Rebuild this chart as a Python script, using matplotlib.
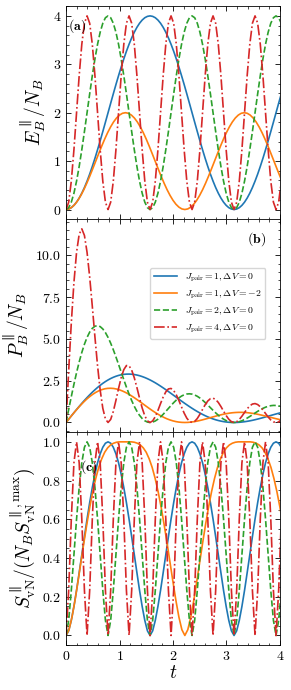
import matplotlib
matplotlib.use("Agg")
import matplotlib.pyplot as plt
from matplotlib.ticker import AutoMinorLocator, MultipleLocator

plt.rcParams["font.family"] = "serif"
plt.rcParams["font.serif"] = ["cmr10"]
plt.rcParams["mathtext.fontset"] = "cm"
plt.rcParams["axes.formatter.use_mathtext"] = True
plt.rcParams["axes.unicode_minus"] = False

# time grid used for J_pair = 1, 2, 4 (Delta V = 0) -----
t = [0.0, 0.0491, 0.0982, 0.1473, 0.1963, 0.2454, 0.2945, 0.3436, 0.3927, 0.4418,
     0.4909, 0.5400, 0.5890, 0.6381, 0.6872, 0.7363, 0.7854, 0.8345, 0.8836, 0.9327,
     0.9817, 1.0308, 1.0799, 1.1290, 1.1781, 1.2272, 1.2763, 1.3254, 1.3744, 1.4235,
     1.4726, 1.5217, 1.5708, 1.6199, 1.6690, 1.7181, 1.7671, 1.8162, 1.8653, 1.9144,
     1.9635, 2.0126, 2.0617, 2.1108, 2.1598, 2.2089, 2.2580, 2.3071, 2.3562, 2.4053,
     2.4544, 2.5035, 2.5525, 2.6016, 2.6507, 2.6998, 2.7489, 2.7980, 2.8471, 2.8962,
     2.9452, 2.9943, 3.0434, 3.0925, 3.1416, 3.1907, 3.2398, 3.2889, 3.3379, 3.3870,
     3.4361, 3.4852, 3.5343, 3.5834, 3.6325, 3.6816, 3.7306, 3.7797, 3.8288, 3.8779,
     3.9270, 3.9761, 4.0252]

# time grid for J_pair = 1, Delta V = -2
t_dv = [0.0000, 0.0555, 0.1111, 0.1666, 0.2221, 0.2777, 0.3332, 0.3888, 0.4443, 0.4998,
        0.5554, 0.6109, 0.6664, 0.7220, 0.7775, 0.8330, 0.8886, 0.9441, 0.9996, 1.0552,
        1.1107, 1.1663, 1.2218, 1.2773, 1.3329, 1.3884, 1.4439, 1.4995, 1.5550, 1.6105,
        1.6661, 1.7216, 1.7772, 1.8327, 1.8882, 1.9438, 1.9993, 2.0548, 2.1104, 2.1659,
        2.2214, 2.2770, 2.3325, 2.3880, 2.4436, 2.4991, 2.5547, 2.6102, 2.6657, 2.7213,
        2.7768, 2.8323, 2.8879, 2.9434, 2.9989, 3.0545, 3.1100, 3.1656, 3.2211, 3.2766,
        3.3322, 3.3877, 3.4432, 3.4988, 3.5543, 3.6098, 3.6654, 3.7209, 3.7764, 3.8320,
        3.8875, 3.9431, 3.9986, 4.0541]

# (a) energy ----------
E_j1 = [0, 0.010, 0.038, 0.086, 0.152, 0.236, 0.337, 0.454, 0.586, 0.731,
        0.889, 1.057, 1.235, 1.419, 1.610, 1.804, 2.000, 2.196, 2.390, 2.581,
        2.765, 2.943, 3.111, 3.269, 3.414, 3.546, 3.663, 3.764, 3.848, 3.914,
        3.962, 3.990, 4.000, 3.990, 3.962, 3.914, 3.848, 3.764, 3.663, 3.546,
        3.414, 3.269, 3.111, 2.943, 2.765, 2.581, 2.390, 2.196, 2.000, 1.804,
        1.610, 1.419, 1.235, 1.057, 0.889, 0.731, 0.586, 0.454, 0.337, 0.236,
        0.152, 0.086, 0.038, 0.010, 0, 0.010, 0.038, 0.086, 0.152, 0.236,
        0.337, 0.454, 0.586, 0.731, 0.889, 1.057, 1.235, 1.419, 1.610, 1.804,
        2.000, 2.196, 2.390]
E_dv = [0, 0.012, 0.049, 0.109, 0.191, 0.293, 0.412, 0.546, 0.691, 0.844,
        1.000, 1.156, 1.309, 1.454, 1.588, 1.707, 1.809, 1.891, 1.951, 1.988,
        2.000, 1.988, 1.951, 1.891, 1.809, 1.707, 1.588, 1.454, 1.309, 1.156,
        1.000, 0.844, 0.691, 0.546, 0.412, 0.293, 0.191, 0.109, 0.049, 0.012,
        0, 0.012, 0.049, 0.109, 0.191, 0.293, 0.412, 0.546, 0.691, 0.844,
        1.000, 1.156, 1.309, 1.454, 1.588, 1.707, 1.809, 1.891, 1.951, 1.988,
        2.000, 1.988, 1.951, 1.891, 1.809, 1.707, 1.588, 1.454, 1.309, 1.156,
        1.000, 0.844, 0.691, 0.546]
E_j2 = [0, 0.038, 0.152, 0.337, 0.586, 0.889, 1.235, 1.610, 2.000, 2.390,
        2.765, 3.111, 3.414, 3.663, 3.848, 3.962, 4.000, 3.962, 3.848, 3.663,
        3.414, 3.111, 2.765, 2.390, 2.000, 1.610, 1.235, 0.889, 0.586, 0.337,
        0.152, 0.038, 0, 0.038, 0.152, 0.337, 0.586, 0.889, 1.235, 1.610,
        2.000, 2.390, 2.765, 3.111, 3.414, 3.663, 3.848, 3.962, 4.000, 3.962,
        3.848, 3.663, 3.414, 3.111, 2.765, 2.390, 2.000, 1.610, 1.235, 0.889,
        0.586, 0.337, 0.152, 0.038, 0, 0.038, 0.152, 0.337, 0.586, 0.889,
        1.235, 1.610, 2.000, 2.390, 2.765, 3.111, 3.414, 3.663, 3.848, 3.962,
        4.000, 3.962, 3.848]
E_j4 = [0, 0.152, 0.586, 1.235, 2.000, 2.765, 3.414, 3.848, 4.000, 3.848,
        3.414, 2.765, 2.000, 1.235, 0.586, 0.152, 0, 0.152, 0.586, 1.235,
        2.000, 2.765, 3.414, 3.848, 4.000, 3.848, 3.414, 2.765, 2.000, 1.235,
        0.586, 0.152, 0, 0.152, 0.586, 1.235, 2.000, 2.765, 3.414, 3.848,
        4.000, 3.848, 3.414, 2.765, 2.000, 1.235, 0.586, 0.152, 0, 0.152,
        0.586, 1.235, 2.000, 2.765, 3.414, 3.848, 4.000, 3.848, 3.414, 2.765,
        2.000, 1.235, 0.586, 0.152, 0, 0.152, 0.586, 1.235, 2.000, 2.765,
        3.414, 3.848, 4.000, 3.848, 3.414, 2.765, 2.000, 1.235, 0.586, 0.152,
        0, 0.152, 0.586]

# (b) P ----------
P_j1 = [0, 0.196, 0.391, 0.585, 0.775, 0.962, 1.144, 1.321, 1.492, 1.655,
        1.811, 1.958, 2.096, 2.224, 2.343, 2.450, 2.546, 2.632, 2.705, 2.767,
        2.817, 2.855, 2.881, 2.895, 2.898, 2.890, 2.870, 2.840, 2.800, 2.749,
        2.690, 2.622, 2.546, 2.463, 2.374, 2.278, 2.177, 2.072, 1.964, 1.852,
        1.739, 1.624, 1.509, 1.394, 1.280, 1.168, 1.059, 0.952, 0.849, 0.750,
        0.656, 0.567, 0.484, 0.406, 0.335, 0.271, 0.213, 0.162, 0.118, 0.082,
        0.052, 0.029, 0.013, 0.003, 0, 0.003, 0.012, 0.026, 0.046, 0.070,
        0.098, 0.130, 0.166, 0.204, 0.245, 0.287, 0.331, 0.376, 0.420, 0.465,
        0.509, 0.552, 0.594]
P_dv = [0, 0.222, 0.441, 0.654, 0.860, 1.055, 1.237, 1.405, 1.555, 1.688,
        1.801, 1.893, 1.964, 2.014, 2.042, 2.049, 2.036, 2.003, 1.952, 1.884,
        1.801, 1.704, 1.597, 1.480, 1.357, 1.230, 1.100, 0.970, 0.842, 0.718,
        0.600, 0.490, 0.389, 0.298, 0.218, 0.151, 0.096, 0.053, 0.023, 0.006,
        0, 0.005, 0.021, 0.046, 0.078, 0.117, 0.161, 0.209, 0.259, 0.310,
        0.360, 0.408, 0.453, 0.494, 0.529, 0.559, 0.582, 0.597, 0.606, 0.607,
        0.600, 0.587, 0.567, 0.541, 0.509, 0.473, 0.433, 0.391, 0.347, 0.302,
        0.257, 0.214, 0.173, 0.135]
P_j2 = [0, 0.783, 1.551, 2.289, 2.983, 3.622, 4.192, 4.685, 5.093, 5.410,
        5.634, 5.762, 5.796, 5.740, 5.599, 5.380, 5.093, 4.747, 4.355, 3.927,
        3.478, 3.018, 2.561, 2.117, 1.698, 1.312, 0.967, 0.671, 0.426, 0.237,
        0.103, 0.025, 0, 0.024, 0.091, 0.196, 0.332, 0.489, 0.662, 0.841,
        1.019, 1.188, 1.341, 1.474, 1.581, 1.658, 1.704, 1.717, 1.698, 1.647,
        1.568, 1.463, 1.338, 1.196, 1.043, 0.885, 0.728, 0.575, 0.434, 0.307,
        0.199, 0.113, 0.050, 0.012, 0, 0.012, 0.047, 0.103, 0.176, 0.262,
        0.359, 0.462, 0.566, 0.667, 0.761, 0.845, 0.915, 0.969, 1.005, 1.022,
        1.019, 0.996, 0.956]
P_j4 = [0, 3.101, 5.967, 8.384, 10.186, 11.267, 11.592, 11.198, 10.186, 8.710,
        6.955, 5.121, 3.395, 1.935, 0.852, 0.207, 0, 0.182, 0.663, 1.324,
        2.037, 2.683, 3.162, 3.408, 3.395, 3.135, 2.675, 2.087, 1.455, 0.867,
        0.398, 0.100, 0, 0.094, 0.351, 0.719, 1.132, 1.523, 1.830, 2.010,
        2.037, 1.912, 1.656, 1.310, 0.926, 0.559, 0.259, 0.066, 0, 0.063,
        0.239, 0.493, 0.784, 1.063, 1.288, 1.425, 1.455, 1.375, 1.199, 0.955,
        0.679, 0.412, 0.193, 0.049, 0, 0.048, 0.181, 0.375, 0.599, 0.817,
        0.994, 1.104, 1.132, 1.074, 0.940, 0.751, 0.536, 0.327, 0.153, 0.039,
        0, 0.038, 0.146]

# (c) entanglement entropy ----------
S_j1 = [0, 0.024, 0.078, 0.150, 0.233, 0.324, 0.417, 0.510, 0.601, 0.686,
        0.764, 0.833, 0.892, 0.938, 0.972, 0.993, 1.000, 0.993, 0.972, 0.938,
        0.892, 0.833, 0.764, 0.686, 0.601, 0.510, 0.417, 0.324, 0.233, 0.150,
        0.078, 0.024, 0, 0.024, 0.078, 0.150, 0.233, 0.324, 0.417, 0.510,
        0.601, 0.686, 0.764, 0.833, 0.892, 0.938, 0.972, 0.993, 1.000, 0.993,
        0.972, 0.938, 0.892, 0.833, 0.764, 0.686, 0.601, 0.510, 0.417, 0.324,
        0.233, 0.150, 0.078, 0.024, 0, 0.024, 0.078, 0.150, 0.233, 0.324,
        0.417, 0.510, 0.601, 0.686, 0.764, 0.833, 0.892, 0.938, 0.972, 0.993,
        1.000, 0.993, 0.972]
S_dv = [0, 0.030, 0.095, 0.180, 0.277, 0.378, 0.479, 0.575, 0.664, 0.743,
        0.811, 0.868, 0.912, 0.946, 0.969, 0.984, 0.993, 0.998, 1.000, 1.000,
        1.000, 1.000, 1.000, 0.998, 0.993, 0.984, 0.969, 0.946, 0.912, 0.868,
        0.811, 0.743, 0.664, 0.575, 0.479, 0.378, 0.277, 0.180, 0.095, 0.030,
        0, 0.030, 0.095, 0.180, 0.277, 0.378, 0.479, 0.575, 0.664, 0.743,
        0.811, 0.868, 0.912, 0.946, 0.969, 0.984, 0.993, 0.998, 1.000, 1.000,
        1.000, 1.000, 1.000, 0.998, 0.993, 0.984, 0.969, 0.946, 0.912, 0.868,
        0.811, 0.743, 0.664, 0.575]
S_j2 = [0, 0.078, 0.233, 0.417, 0.601, 0.764, 0.892, 0.972, 1.000, 0.972,
        0.892, 0.764, 0.601, 0.417, 0.233, 0.078, 0, 0.078, 0.233, 0.417,
        0.601, 0.764, 0.892, 0.972, 1.000, 0.972, 0.892, 0.764, 0.601, 0.417,
        0.233, 0.078, 0, 0.078, 0.233, 0.417, 0.601, 0.764, 0.892, 0.972,
        1.000, 0.972, 0.892, 0.764, 0.601, 0.417, 0.233, 0.078, 0, 0.078,
        0.233, 0.417, 0.601, 0.764, 0.892, 0.972, 1.000, 0.972, 0.892, 0.764,
        0.601, 0.417, 0.233, 0.078, 0, 0.078, 0.233, 0.417, 0.601, 0.764,
        0.892, 0.972, 1.000, 0.972, 0.892, 0.764, 0.601, 0.417, 0.233, 0.078,
        0, 0.078, 0.233]
S_j4 = [0, 0.233, 0.601, 0.892, 1.000, 0.892, 0.601, 0.233, 0, 0.233,
        0.601, 0.892, 1.000, 0.892, 0.601, 0.233, 0, 0.233, 0.601, 0.892,
        1.000, 0.892, 0.601, 0.233, 0, 0.233, 0.601, 0.892, 1.000, 0.892,
        0.601, 0.233, 0, 0.233, 0.601, 0.892, 1.000, 0.892, 0.601, 0.233,
        0, 0.233, 0.601, 0.892, 1.000, 0.892, 0.601, 0.233, 0, 0.233,
        0.601, 0.892, 1.000, 0.892, 0.601, 0.233, 0, 0.233, 0.601, 0.892,
        1.000, 0.892, 0.601, 0.233, 0, 0.233, 0.601, 0.892, 1.000, 0.892,
        0.601, 0.233, 0, 0.233, 0.601, 0.892, 1.000, 0.892, 0.601, 0.233,
        0, 0.233, 0.601]

labels = [r"$J_{\rm pair}=1, \Delta V=0$", r"$J_{\rm pair}=1, \Delta V=-2$",
          r"$J_{\rm pair}=2, \Delta V=0$", r"$J_{\rm pair}=4, \Delta V=0$"]
colors = ["#1f77b4", "#ff7f0e", "#2ca02c", "#d62728"]
styles = ["-", "-", "--", "-."]

panels = [(E_j1, E_dv, E_j2, E_j4), (P_j1, P_dv, P_j2, P_j4), (S_j1, S_dv, S_j2, S_j4)]

fig, axes = plt.subplots(3, 1, sharex=True, figsize=(2.91, 6.90), dpi=100)
fig.subplots_adjust(left=0.227, right=0.962, top=0.991, bottom=0.065, hspace=0)

for ax, ys in zip(axes, panels):
    xs = [t, t_dv, t, t]
    for x, y, c, ls, lab in zip(xs, ys, colors, styles, labels):
        ax.plot(x, y, color=c, ls=ls, lw=1.2, label=lab)
    ax.tick_params(which="both", direction="in", top=True, right=True, labelsize=10)
    ax.tick_params(which="major", length=3.5, width=0.6)
    ax.tick_params(which="minor", length=1.8, width=0.5)
    ax.xaxis.set_minor_locator(AutoMinorLocator(5))
    for s in ax.spines.values():
        s.set_linewidth(0.6)

ax1, ax2, ax3 = axes
ax1.set_xlim(0, 4)
ax1.set_ylim(-0.2, 4.2)
ax1.yaxis.set_major_locator(MultipleLocator(1))
ax1.yaxis.set_minor_locator(AutoMinorLocator(5))
ax2.set_ylim(-0.58, 12.17)
ax2.yaxis.set_major_locator(MultipleLocator(2.5))
ax2.yaxis.set_minor_locator(AutoMinorLocator(5))
ax3.set_ylim(-0.05, 1.05)
ax3.yaxis.set_major_locator(MultipleLocator(0.2))
ax3.yaxis.set_minor_locator(AutoMinorLocator(4))

ax1.set_ylabel(r"$E_B^{\parallel}/N_B$", fontsize=14, labelpad=3)
ax2.set_ylabel(r"$P_B^{\parallel}/N_B$", fontsize=14, labelpad=3)
ax3.set_ylabel(r"$S_{\rm vN}^{\parallel}/(N_B S_{\rm vN}^{\parallel,\rm max})$", fontsize=14, labelpad=3)
ax3.set_xlabel(r"$t$", fontsize=14, labelpad=1)

ax1.text(0.01, 0.89, r"$\mathbf{(a)}$", transform=ax1.transAxes, fontsize=10)
ax2.text(0.845, 0.89, r"$\mathbf{(b)}$", transform=ax2.transAxes, fontsize=10)
ax3.text(0.065, 0.82, r"$\mathbf{(c)}$", transform=ax3.transAxes, fontsize=10)

ax2.legend(loc="upper right", bbox_to_anchor=(0.955, 0.795), fontsize=7, handlelength=2.4)

fig.savefig("out.png", dpi=100)
